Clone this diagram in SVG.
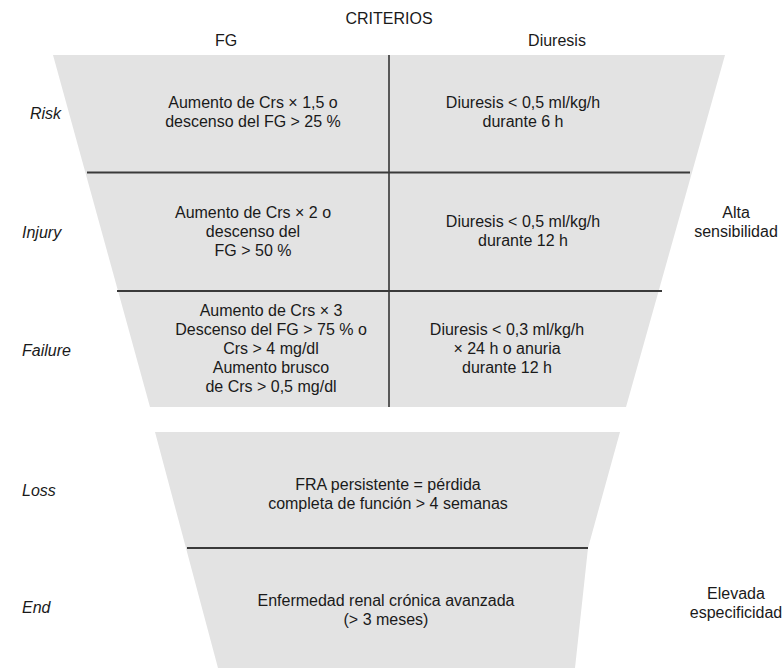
<svg xmlns="http://www.w3.org/2000/svg" width="784" height="668" viewBox="0 0 784 668">
<style>
text{font-family:"Liberation Sans",Arial,sans-serif;font-size:16px;fill:#1a1a1a;text-anchor:middle;dominant-baseline:central}
.lab{font-style:italic;text-anchor:start}
.fun{fill:#e3e3e3;stroke:none}
.div{stroke:#3a3a3a;stroke-width:2;fill:none}
.vdiv{stroke:#2a2a2a;stroke-width:1.5;fill:none}
</style>
<rect width="784" height="668" fill="#ffffff"/>
<g id="header">
<text x="389" y="18">CRITERIOS</text>
<text x="226" y="40">FG</text>
<text x="557" y="40">Diuresis</text>
</g>
<g id="funnel-top"><polygon class="fun" points="53,55 725,55 626,407 150,407"/></g>
<g id="funnel-bottom"><polygon class="fun" points="155,432 620,432 588,548 575,668 218,668"/></g>
<g id="connectors">
<line class="vdiv" x1="389" y1="55" x2="389" y2="407"/>
<line class="div" x1="87" y1="172.5" x2="690" y2="172.5"/>
<line class="div" x1="117" y1="291" x2="662" y2="291"/>
<line class="div" x1="187" y1="548" x2="588" y2="548"/>
</g>
<g id="risk">
<text class="lab" x="30" y="113">Risk</text>
<text x="253" y="102">Aumento de Crs × 1,5 o</text>
<text x="253" y="121">descenso del FG &gt; 25 %</text>
<text x="523" y="102">Diuresis &lt; 0,5 ml/kg/h</text>
<text x="523" y="121">durante 6 h</text>
</g>
<g id="injury">
<text class="lab" x="22" y="232">Injury</text>
<text x="253" y="212">Aumento de Crs × 2 o</text>
<text x="253" y="231">descenso del</text>
<text x="253" y="250">FG &gt; 50 %</text>
<text x="523" y="221">Diuresis &lt; 0,5 ml/kg/h</text>
<text x="523" y="240">durante 12 h</text>
</g>
<g id="failure">
<text class="lab" x="22" y="350">Failure</text>
<text x="271" y="310">Aumento de Crs × 3</text>
<text x="271" y="329">Descenso del FG &gt; 75 % o</text>
<text x="271" y="348">Crs &gt; 4 mg/dl</text>
<text x="271" y="367">Aumento brusco</text>
<text x="271" y="386">de Crs &gt; 0,5 mg/dl</text>
<text x="507" y="329">Diuresis &lt; 0,3 ml/kg/h</text>
<text x="507" y="348">× 24 h o anuria</text>
<text x="507" y="367">durante 12 h</text>
</g>
<g id="loss">
<text class="lab" x="22" y="490">Loss</text>
<text x="388" y="484">FRA persistente = pérdida</text>
<text x="388" y="503">completa de función &gt; 4 semanas</text>
</g>
<g id="end">
<text class="lab" x="22" y="607">End</text>
<text x="386" y="600">Enfermedad renal crónica avanzada</text>
<text x="386" y="619">(&gt; 3 meses)</text>
</g>
<g id="alta">
<text x="736" y="212">Alta</text>
<text x="736" y="231">sensibilidad</text>
</g>
<g id="elevada">
<text x="736" y="593">Elevada</text>
<text x="736" y="612">especificidad</text>
</g>
</svg>
